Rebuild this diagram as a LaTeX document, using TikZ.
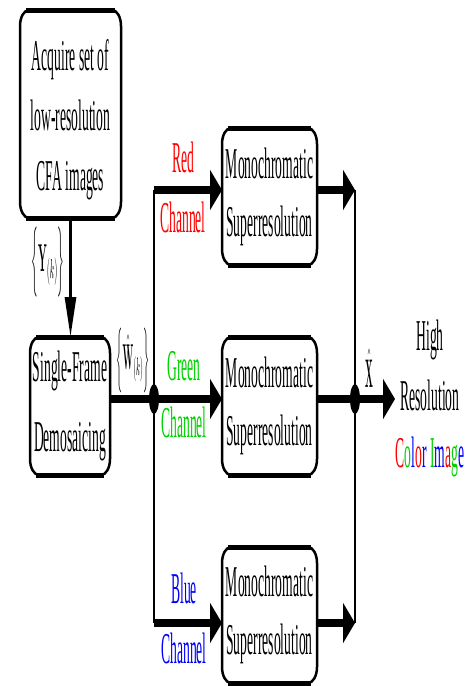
\documentclass[tikz,border=0pt]{standalone}
\usepackage[no-math]{fontspec}
\setmainfont{Liberation Serif}[FakeStretch=0.31]
\usepackage{graphicx}
\usetikzlibrary{arrows.meta}
\definecolor{cred}{RGB}{255,0,0}
\definecolor{cgreen}{RGB}{0,210,0}
\definecolor{cblue}{RGB}{0,0,255}
\tikzset{
  every node/.style={inner sep=0pt, outer sep=0pt},
  txt/.style={font=\fontsize{44}{58}\selectfont, align=center},
  thinline/.style={line width=2.8pt},
  thickline/.style={line width=8pt},
  bigtip/.style={-{Triangle[length=12pt,width=40pt]}},
  downtip/.style={-{Triangle[length=40pt,width=11pt]}},
  frameside/.style={line width=2.5pt},
  frametop/.style={line width=5pt},
}
\begin{document}
\begin{tikzpicture}[x=1pt,y=1pt]
\useasboundingbox (0,0) rectangle (469,-686);

% boxes
\node[minimum width=101pt, minimum height=208pt] (acq) at (70.5,-114) {};
\node[txt, font=\fontsize{44}{60}\selectfont] (acqT) at ([yshift=-6pt]acq.center) {Acquire set of\\low-resolution\\CFA images};
\node[txt, minimum width=80pt, minimum height=138pt] (dem) at (70,-406) {Single-Frame\\[12pt]Demosaicing};
\node[txt, minimum width=95pt, minimum height=137pt] (red) at (269.5,-196.5) {Monochromatic\\Superresolution};
\node[txt, minimum width=95pt, minimum height=138pt] (grn) at (269.5,-406) {Monochromatic\\Superresolution};
\node[txt, minimum width=95pt, minimum height=136pt] (blu) at (269.5,-615) {Monochromatic\\Superresolution};

\foreach \n in {acq,dem,red,grn,blu}{
  \draw[frameside] ([xshift=9pt]\n.north west) -- ([xshift=-9pt]\n.north east)
    arc[start angle=90,end angle=0,x radius=9pt,y radius=16pt]
    -- ([yshift=16pt]\n.south east)
    arc[start angle=0,end angle=-90,x radius=9pt,y radius=16pt]
    -- ([xshift=9pt]\n.south west)
    arc[start angle=270,end angle=180,x radius=9pt,y radius=16pt]
    -- ([yshift=-16pt]\n.north west)
    arc[start angle=180,end angle=90,x radius=9pt,y radius=16pt] -- cycle;
  \draw[frametop] ([xshift=6pt]\n.north west) -- ([xshift=-6pt]\n.north east);
  \draw[frametop] ([xshift=6pt]\n.south west) -- ([xshift=-6pt]\n.south east);
}

% junction coordinates
\coordinate (jr) at (154,-190);
\coordinate (jg) at (154,-399);
\coordinate (jb) at (154,-623);
\coordinate (kr) at (355,-190);
\coordinate (kg) at (355,-399);
\coordinate (kb) at (355,-623);
\coordinate (out) at (395,-399);

% connectors
\draw[thinline, downtip] (acq.south) -- (acq.south |- dem.north);
\draw[thinline] (jr) -- (jb);
\draw[thinline] (kr) -- (kb);
\draw[thickline, bigtip] (jr) -- (jr -| red.west);
\draw[thickline, bigtip] (dem.east |- jg) -- (jg -| grn.west);
\draw[thickline, bigtip] (jb) -- (jb -| blu.west);
\draw[thickline, bigtip] (red.east |- kr) -- (kr);
\draw[thickline, bigtip] (blu.east |- kb) -- (kb);
\draw[thickline, bigtip] (grn.east |- kg) -- (out);
\fill (jg) ellipse[x radius=5pt, y radius=15pt];
\fill (kg) ellipse[x radius=5pt, y radius=15pt];

% channel labels
\node[txt, text=cred, anchor=base] (redA) at (183,-172) {Red};
\node[txt, text=cred, anchor=base] (redB) at (183,-232) {Channel};
\node[txt, text=cgreen, anchor=base] (grnA) at (184,-380) {Green};
\node[txt, text=cgreen, anchor=base] (grnB) at (184,-437) {Channel};
\node[txt, text=cblue, anchor=base] (bluA) at (184,-603) {Blue};
\node[txt, text=cblue, anchor=base] (bluB) at (184,-663) {Channel};

% math labels
\node (yk) at (48,-262) {\scalebox{1}[3.9]{$\Big\{\mathbf{Y}_{(k)}\Big\}$}};
\node (wk) at (133,-360) {\scalebox{0.9}[3.6]{$\Big\{\hat{\mathbf{W}}_{(k)}\Big\}$}};
\node[anchor=base] (xh) at (369,-387) {\scalebox{0.9}[4]{$\hat{\mathbf{X}}$}};

% output label
\node[txt, anchor=base] (hi) at (430,-350) {High};
\node[txt, anchor=base] (res) at (430,-410) {Resolution};
\node[txt, anchor=base] (ci) at (430,-467) {\textcolor{cred}{C}\textcolor{cgreen}{o}\textcolor{cblue}{l}\textcolor{cred}{o}\textcolor{cblue}{r} \textcolor{cgreen}{I}\textcolor{cblue}{m}\textcolor{cred}{a}\textcolor{cgreen}{g}\textcolor{cblue}{e}};
\end{tikzpicture}
\end{document}
